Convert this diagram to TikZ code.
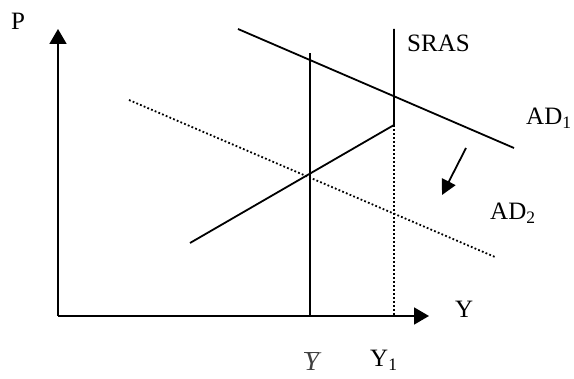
\documentclass[tikz,border=0pt]{standalone}
\usepackage{fontspec}
\setmainfont{Liberation Serif}
\usetikzlibrary{arrows.meta}

\begin{document}
\begin{tikzpicture}[x=1pt, y=-1pt,
  curve/.style={line width=1.8pt},
  dots/.style={line width=1.8pt, dash pattern=on 1.8pt off 2.2pt},
  axis/.style={line width=1.8pt, -{Triangle[length=15pt, width=17pt]}},
  movearr/.style={line width=1.8pt, -{Triangle[length=15pt, width=15pt]}},
  lbl/.style={font=\fontsize{25}{30}\selectfont, inner sep=0pt, anchor=base west},
]
  \useasboundingbox (0,0) rectangle (574,379);

  % axes
  \coordinate (O)    at (58,316);
  \coordinate (ytip) at (58,29);
  \coordinate (xtip) at (429,316);
  \draw[axis] (O) -- (ytip);
  \draw[axis] (O) -- (xtip);

  % long run supply
  \coordinate (lrTop) at (310,53);
  \coordinate (lrBot) at (310,316);
  \draw[curve] (lrBot) -- (lrTop);

  % short run supply
  \coordinate (srTop)  at (394,29);
  \coordinate (srKink) at (394,125);
  \coordinate (srLow)  at (190,243);
  \coordinate (srFoot) at (394,316);
  \draw[curve] (srTop) -- (srKink) -- (srLow);
  \draw[dots] (srKink) -- (srFoot);

  % demand curves
  \coordinate (ad1a) at (238,29);
  \coordinate (ad1b) at (514,148);
  \coordinate (ad2a) at (129,100);
  \coordinate (ad2b) at (495,257);
  \draw[curve] (ad1a) -- (ad1b);
  \draw[dots] (ad2a) -- (ad2b);

  \coordinate (shFrom) at (466,148);
  \coordinate (shTo)   at (442,195);
  \draw[movearr] (shFrom) -- (shTo);

  % labels
  \node[lbl] (pLbl)    at (11,30)   {P};
  \node[lbl] (yLbl)    at (455,318) {Y};
  \node[lbl] (srasLbl) at (407,52)  {SRAS};
  \node[lbl] (ad1Lbl)  at (526,125) {AD\textsubscript{1}};
  \node[lbl] (ad2Lbl)  at (490,220) {AD\textsubscript{2}};
  \node[lbl] (y1Lbl)   at (370,367) {Y\textsubscript{1}};
  \node[lbl, font=\fontsize{27}{32}\selectfont, text=black!75]
    (ybarLbl) at (304,371) {$\overline{\mbox{\itshape Y}}$};
\end{tikzpicture}
\end{document}
